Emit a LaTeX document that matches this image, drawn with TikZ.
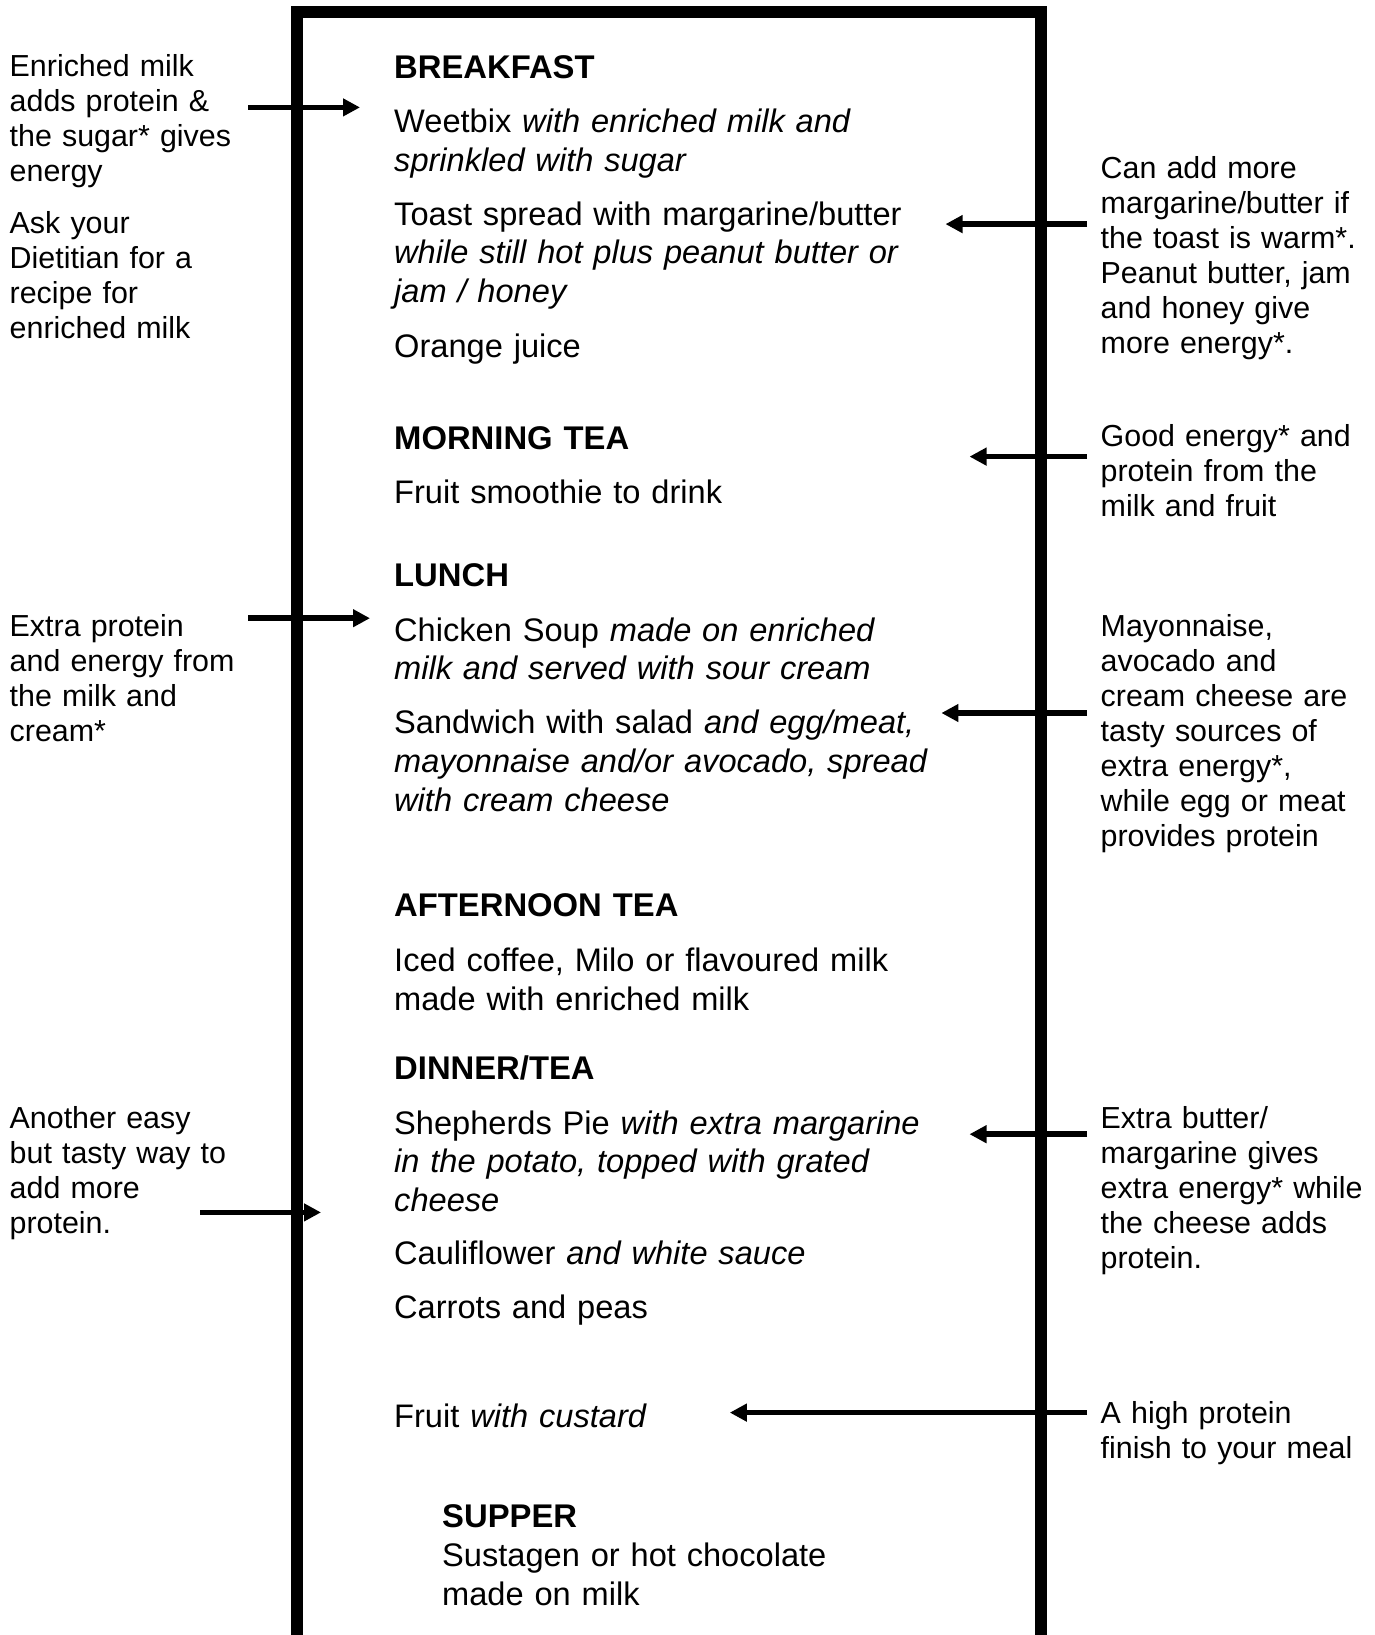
\documentclass[tikz,border=0pt]{standalone}
\usepackage{fontspec}
\setmainfont{Liberation Sans}
\usetikzlibrary{arrows.meta}
\begin{document}
\begin{tikzpicture}[x=1pt,y=-1pt,
  menu/.style={anchor=base west, inner sep=0pt, text width=640pt, align=left, font=\fontsize{32.6}{38.6}\selectfont},
  head/.style={menu, font=\fontsize{32.8}{38.6}\selectfont\bfseries},
  note/.style={anchor=base west, inner sep=0pt, text width=330pt, align=left, font=\fontsize{30.4}{35.1}\selectfont},
  arr/.style={line width=5.5pt, -{Triangle[length=17pt,width=17pt]}},
  frame/.style={line width=12pt}]
\useasboundingbox (0,0) rectangle (1375,1635);
\fill[white] (0,0) rectangle (1375,1635);
% frame
\draw[frame] (297,12) rectangle (1041,1641);
% menu column
\node[head] (bf) at (394,78.2) {BREAKFAST};
\node[menu] (weet) at (394,132.4) {Weetbix \textit{with enriched milk and}\\\textit{sprinkled with sugar}};
\node[menu] (toast) at (394,225.2) {Toast spread with margarine/butter\\\textit{while still hot plus peanut butter or}\\\textit{jam / honey}};
\node[menu] (oj) at (394,357.6) {Orange juice};
\node[head] (mt) at (394,449.3) {MORNING TEA};
\node[menu] (smoo) at (394,503.5) {Fruit smoothie to drink};
\node[head] (lu) at (394,586.9) {LUNCH};
\node[menu] (soup) at (394,641.1) {Chicken Soup \textit{made on enriched}\\\textit{milk and served with sour cream}};
\node[menu] (sand) at (394,733.9) {Sandwich with salad \textit{and egg/meat,}\\\textit{mayonnaise and/or avocado, spread}\\\textit{with cream cheese}};
\node[head] (at) at (394,916.4) {AFTERNOON TEA};
\node[menu] (iced) at (394,971.6) {Iced coffee, Milo or flavoured milk\\made with enriched milk};
\node[head] (dt) at (394,1079) {DINNER/TEA};
\node[menu] (pie) at (394,1134.2) {Shepherds Pie \textit{with extra margarine}\\\textit{in the potato, topped with grated}\\\textit{cheese}};
\node[menu] (cauli) at (394,1264.6) {Cauliflower \textit{and white sauce}};
\node[menu] (carr) at (394,1318.8) {Carrots and peas};
\node[menu] (fruit) at (394,1427.2) {Fruit \textit{with custard}};
\node[head] (sup) at (442,1527.3) {SUPPER};
\node[menu] (sust) at (442,1566.9) {Sustagen or hot chocolate\\made on milk};
% left notes
\node[note] (l1) at (9.5,76.1) {Enriched milk\\adds protein \&\\the sugar* gives\\energy};
\node[note] (l2) at (9.5,233.5) {Ask your\\Dietitian for a\\recipe for\\enriched milk};
\node[note] (l3) at (9.5,636) {Extra protein\\and energy from\\the milk and\\cream*};
\node[note] (l4) at (9.5,1128) {Another easy\\but tasty way to\\add more\\protein.};
% right notes
\node[note] (r1) at (1100.5,178.3) {Can add more\\margarine/butter if\\the toast is warm*.\\Peanut butter, jam\\and honey give\\more energy*.};
\node[note] (r2) at (1100.5,446.2) {Good energy* and\\protein from the\\milk and fruit};
\node[note] (r3) at (1100.5,636) {Mayonnaise,\\avocado and\\cream cheese are\\tasty sources of\\extra energy*,\\while egg or meat\\provides protein};
\node[note] (r4) at (1100.5,1128) {Extra butter/\\margarine gives\\extra energy* while\\the cheese adds\\protein.};
\node[note] (r5) at (1100.5,1423) {A high protein\\finish to your meal};
% arrow ends
\coordinate (a1s) at (248,107.4);  \coordinate (a1e) at (360,107.4);
\coordinate (a2s) at (1087,224.1); \coordinate (a2e) at (945.5,224.1);
\coordinate (a3s) at (1087,456.6); \coordinate (a3e) at (969.5,456.6);
\coordinate (a4s) at (248,618.2);  \coordinate (a4e) at (370,618.2);
\coordinate (a5s) at (1087,713);   \coordinate (a5e) at (941.4,713);
\coordinate (a6s) at (200,1212.4); \coordinate (a6e) at (321,1212.4);
\coordinate (a7s) at (1087,1134.2);\coordinate (a7e) at (969.5,1134.2);
\coordinate (a8s) at (1087,1412.6);\coordinate (a8e) at (729.8,1412.6);
\draw[arr] (a1s) -- (a1e);
\draw[arr] (a2s) -- (a2e);
\draw[arr] (a3s) -- (a3e);
\draw[arr] (a4s) -- (a4e);
\draw[arr] (a5s) -- (a5e);
\draw[arr] (a6s) -- (a6e);
\draw[arr] (a7s) -- (a7e);
\draw[arr] (a8s) -- (a8e);
\end{tikzpicture}
\end{document}
